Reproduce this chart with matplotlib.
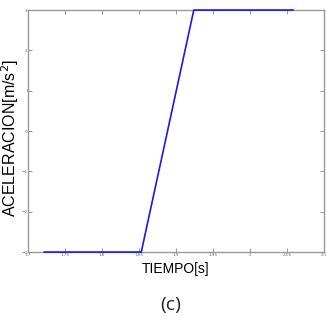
import numpy as np
import matplotlib
matplotlib.use("Agg")
import matplotlib.pyplot as plt

# acceleration step profile
tiempo = [1.722, 1.853, 1.924, 2.058]
aceleracion = [-3, -3, 3, 3]

x_ticks = [1.7, 1.75, 1.8, 1.85, 1.9, 1.95, 2, 2.05, 2.1]
x_tick_labels = ["1.7", "1.75", "1.8", "1.85", "1.9", "1.95", "2", "2.05", "2.1"]
y_ticks = [-3, -2, -1, 0, 1, 2, 3]

fig = plt.figure(figsize=(3.26, 3.24), dpi=100)
ax = fig.add_axes([0.086, 0.222, 0.908, 0.747])

ax.plot(tiempo, aceleracion, color="#1a1ae6", linewidth=1.2,
        clip_on=False, zorder=5)

ax.set_xlim(1.7, 2.1)
ax.set_ylim(-3, 3)
ax.set_xticks(x_ticks)
ax.set_xticklabels(x_tick_labels)
ax.set_yticks(y_ticks)
ax.tick_params(direction="in", length=3, width=0.6, colors="#888888",
               labelsize=3, labelcolor="#666666", pad=1,
               top=True, right=True)
ax.tick_params(axis="y", pad=0.3)
for s in ax.spines.values():
    s.set_color("#999999")
    s.set_linewidth(1.0)

# y label placed by hand, the default spot falls off the left edge
fig.text(0.031, 0.575, "ACELERACION[m/s$^2$]", rotation=90, ha="center",
         va="center", fontsize=11.5, family="Liberation Sans")
ax.set_xlabel("TIEMPO[s]", fontsize=10, family="Liberation Sans",
              labelpad=3)

fig.text(0.524, 0.06, "(c)", ha="center", va="center", fontsize=14,
         family="Open Sans", color="#222222")

fig.savefig("out.png", dpi=100)
